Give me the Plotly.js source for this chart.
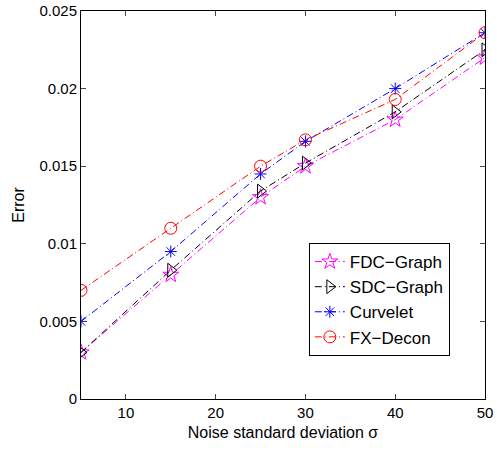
<!DOCTYPE html>
<html><head><meta charset="utf-8">
<script src="https://cdn.plot.ly/plotly-3.0.1.min.js"></script>
<style>html,body{margin:0;padding:0;background:#fff}#chart{width:497px;height:453px}</style>
</head><body><div id="chart"></div>
<script>
var sigma = [5, 15, 25, 30, 40, 50];
var fdcGraph = [0.0030, 0.0080, 0.0130, 0.0150, 0.0180, 0.0220];
var sdcGraph = [0.0030, 0.0083, 0.0134, 0.0152, 0.0185, 0.0225];
var curvelet = [0.0050, 0.0095, 0.0145, 0.0166, 0.0200, 0.0236];
var fxDecon  = [0.0070, 0.0110, 0.0150, 0.0167, 0.0193, 0.0236];
var seriesNames = ['FDC\u2212Graph', 'SDC\u2212Graph', 'Curvelet', 'FX\u2212Decon'];
var yTickVals = [0, 0.005, 0.01, 0.015, 0.02, 0.025];
var yTickText = ['0', '0.005', '0.01', '0.015', '0.02', '0.025'];
var xTickVals = [10, 20, 30, 40, 50];

var dash = '7px,3px,1px,3px';
function tr(y, name, color, symbol, size) {
  return {x: sigma, y: y, name: name, type: 'scatter', mode: 'lines+markers',
    line: {color: color, width: 1, dash: dash},
    marker: {symbol: symbol, size: size, color: color, line: {color: color, width: 1}}};
}
var data = [
  tr(fdcGraph, seriesNames[0], '#ff00ff', 'star-open', 12),
  tr(sdcGraph, seriesNames[1], '#000000', 'triangle-right-open', 12),
  tr(curvelet, seriesNames[2], '#0000ff', 'asterisk-open', 10),
  tr(fxDecon, seriesNames[3], '#ff0000', 'circle-open', 12)
];
var fam = 'Liberation Sans, Arial, sans-serif';
var tickFnt = {family: fam, size: 15, color: '#000'};
var titleFnt = {family: fam, size: 16, color: '#000'};
var layout = {
  width: 497, height: 453,
  margin: {l: 81, r: 12, t: 11, b: 54},
  paper_bgcolor: '#fff', plot_bgcolor: '#fff',
  font: tickFnt,
  showlegend: true,
  legend: {x: 0.564, y: 0.402, xanchor: 'left', yanchor: 'top',
    bgcolor: '#fff', bordercolor: '#000', borderwidth: 1,
    font: {family: fam, size: 17, color: '#000'},
    tracegroupgap: 0},
  xaxis: {range: [5, 50], tickvals: xTickVals, ticks: 'inside', ticklen: 5,
    showline: true, linecolor: '#000', linewidth: 1, mirror: 'allticks',
    showgrid: false, zeroline: false, tickfont: tickFnt,
    title: {text: 'Noise standard deviation \u03c3', font: titleFnt, standoff: 6}},
  yaxis: {range: [0, 0.025], tickvals: yTickVals, ticktext: yTickText, ticks: 'inside', ticklen: 5,
    showline: true, linecolor: '#000', linewidth: 1, mirror: 'allticks',
    showgrid: false, zeroline: false, tickfont: tickFnt,
    title: {text: 'Error', font: titleFnt, standoff: 10}}
};
Plotly.newPlot('chart', data, layout, {displayModeBar: false, staticPlot: true});
</script></body></html>
